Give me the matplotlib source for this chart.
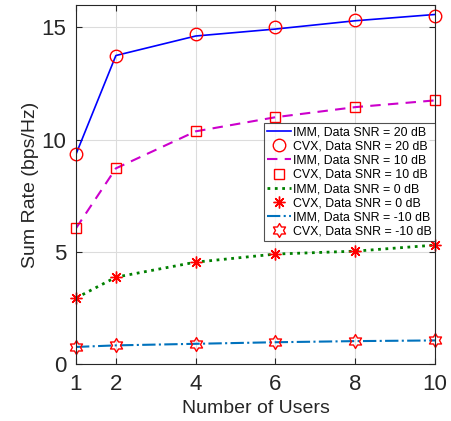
import matplotlib.pyplot as plt
import numpy as np
from matplotlib.path import Path

users = [1, 2, 4, 6, 8, 10]

imm_20 = [9.35, 13.75, 14.62, 14.93, 15.30, 15.58]
cvx_20 = [9.35, 13.75, 14.72, 15.00, 15.35, 15.50]
imm_10 = [6.05, 8.72, 10.37, 11.00, 11.45, 11.75]
cvx_10 = [6.05, 8.72, 10.37, 11.00, 11.45, 11.75]
imm_0 = [2.94, 3.87, 4.54, 4.90, 5.03, 5.30]
cvx_0 = [2.94, 3.87, 4.54, 4.90, 5.03, 5.30]
imm_m10 = [0.76, 0.83, 0.90, 0.97, 1.02, 1.05]
cvx_m10 = [0.76, 0.83, 0.90, 0.97, 1.02, 1.05]

plt.rcParams['font.family'] = ['Liberation Sans', 'DejaVu Sans']

# six-pointed star like matlab's hexagram
hexagram = Path.unit_regular_star(6, 0.58)

fig = plt.figure(figsize=(4.51, 4.21), dpi=100)
ax = fig.add_axes([0.1685, 0.1354, 0.796, 0.8526])

red = '#FF0000'
ax.plot(users, imm_20, '-', color='#0000FF', lw=1.2, label='IMM, Data SNR = 20 dB')
ax.plot(users, cvx_20, 'o', color=red, mfc='none', ms=9, mew=1.0, clip_on=False, label='CVX, Data SNR = 20 dB')
ax.plot(users, imm_10, '--', color='#CC00CC', lw=1.5, dashes=(5, 3.5), label='IMM, Data SNR = 10 dB')
ax.plot(users, cvx_10, 's', color=red, mfc='none', ms=7.5, mew=1.0, clip_on=False, label='CVX, Data SNR = 10 dB')
ax.plot(users, imm_0, ':', color='#008000', lw=2.0, label='IMM, Data SNR = 0 dB')
ax.plot(users, cvx_0, marker=(8, 2, 0), ls='none', color=red, ms=8.5, mew=1.0, clip_on=False, label='CVX, Data SNR = 0 dB')
ax.plot(users, imm_m10, '-.', color='#0072BD', lw=1.5, label='IMM, Data SNR = -10 dB')
ax.plot(users, cvx_m10, marker=hexagram, ls='none', color=red, mfc='none', ms=10, mew=1.0, clip_on=False, label='CVX, Data SNR = -10 dB')

ax.set_xlim(1, 10)
ax.set_ylim(0, 16)
ax.set_xticks(users)
ax.set_yticks([0, 5, 10, 15])
ax.tick_params(direction='in', labelsize=16, top=True, right=True, length=4, pad=7,
               labelcolor='#262626', color='#262626')
ax.grid(True, color='#DCDCDC', lw=0.8)
ax.set_axisbelow(True)
for s in ax.spines.values():
    s.set_linewidth(0.8)
    s.set_color('#262626')

ax.set_xlabel('Number of Users', fontsize=14, labelpad=4, color='#262626')
ax.set_ylabel('Sum Rate (bps/Hz)', fontsize=14, labelpad=2, color='#262626')

leg = ax.legend(loc='upper right', bbox_to_anchor=(1.0, 0.671), fontsize=8.9, frameon=True, fancybox=False,
                edgecolor='#262626', handlelength=1.9, handletextpad=0.2, borderpad=0.25,
                labelspacing=0.18, borderaxespad=0)
leg.get_frame().set_linewidth(0.8)

fig.savefig('out.png', dpi=100)
